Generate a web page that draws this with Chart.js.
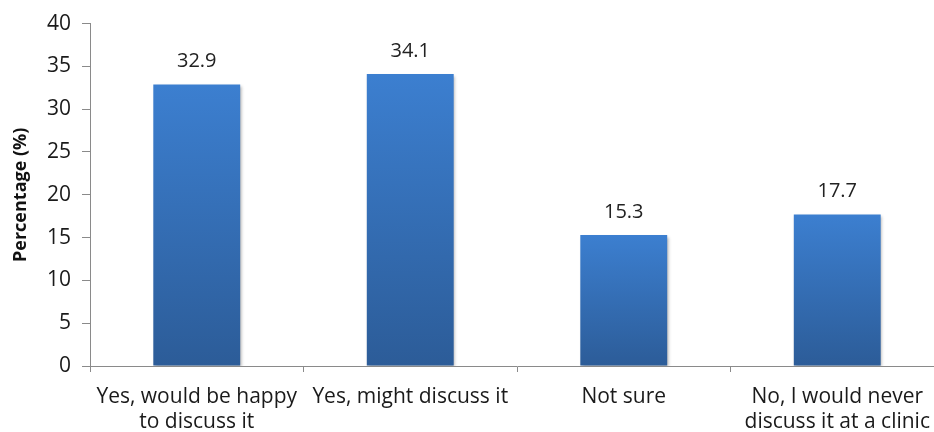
<!DOCTYPE html>
<html>
<head>
<meta charset="utf-8">
<script src="https://cdn.jsdelivr.net/npm/chart.js@4.4.1/dist/chart.umd.min.js"></script>
<style>
  html, body { margin: 0; padding: 0; background: #fff; overflow: hidden; }
  #wrap { width: 946px; height: 432px; position: relative; }
</style>
</head>
<body>
<div id="wrap"><canvas id="c" width="946" height="432"></canvas></div>
<script>
const categories = [
  ["Yes, would be happy", "to discuss it"],
  "Yes, might discuss it",
  "Not sure",
  ["No, I would never", "discuss it at a clinic"]
];
const percentages = [32.9, 34.1, 15.3, 17.7];
const yTicks = [0, 5, 10, 15, 20, 25, 30, 35, 40];
const yTitle = "Percentage (%)";

const FONT = "'Open Sans', sans-serif";

function barGradient(ctx) {
  const chart = ctx.chart;
  const ys = chart.scales && chart.scales.y;
  if (!chart.chartArea || !ys || ctx.raw === undefined) return '#3773c0';
  const top = ys.getPixelForValue(ctx.raw);
  const bottom = ys.getPixelForValue(0);
  const g = chart.ctx.createLinearGradient(0, top, 0, bottom);
  g.addColorStop(0, '#3c7fd0');
  g.addColorStop(1, '#2c5c98');
  return g;
}

const valueLabels = {
  id: 'valueLabels',
  afterDatasetsDraw(chart) {
    const ctx = chart.ctx;
    const meta = chart.getDatasetMeta(0);
    ctx.save();
    ctx.font = "20px " + FONT;
    ctx.fillStyle = '#222';
    ctx.textAlign = 'center';
    ctx.textBaseline = 'middle';
    meta.data.forEach((el, i) => {
      ctx.fillText(percentages[i].toFixed(1), el.x, el.y - 23);
    });
    ctx.restore();
  }
};

const barShadow = {
  id: 'barShadow',
  beforeDatasetDraw(chart) {
    const ctx = chart.ctx;
    ctx.save();
    ctx.shadowColor = 'rgba(0,0,0,0.3)';
    ctx.shadowBlur = 3;
    ctx.shadowOffsetX = 1.5;
    ctx.shadowOffsetY = 1.5;
  },
  afterDatasetDraw(chart) {
    chart.ctx.restore();
  }
};

new Chart(document.getElementById('c'), {
  type: 'bar',
  data: {
    labels: categories,
    datasets: [{
      data: percentages,
      backgroundColor: barGradient,
      borderWidth: 0,
      barPercentage: 0.407,
      categoryPercentage: 1.0
    }]
  },
  options: {
    responsive: false,
    animation: false,
    devicePixelRatio: 1,
    layout: { padding: { top: 22, right: 2, left: 0, bottom: 0 } },
    plugins: {
      legend: { display: false },
      tooltip: { enabled: false }
    },
    scales: {
      x: {
        offset: true,
        grid: {
          display: true,
          offset: true,
          drawOnChartArea: false,
          drawTicks: true,
          tickLength: 6,
          color: '#8a8a8a'
        },
        border: { display: true, color: '#8a8a8a', width: 1 },
        ticks: {
          color: '#1a1a1a',
          font: { family: FONT, size: 21, lineHeight: 1.2 },
          padding: 12,
          maxRotation: 0,
          autoSkip: false
        },
        afterFit(s) { s.height = 66; }
      },
      y: {
        min: 0,
        max: 40,
        afterBuildTicks(s) { s.ticks = yTicks.map(v => ({ value: v })); },
        grid: {
          display: true,
          drawOnChartArea: false,
          drawTicks: true,
          tickLength: 8,
          color: '#8a8a8a'
        },
        border: { display: true, color: '#8a8a8a', width: 1 },
        ticks: {
          color: '#1a1a1a',
          font: { family: FONT, size: 21 },
          padding: 11
        },
        title: {
          display: true,
          text: yTitle,
          color: '#111',
          font: { family: FONT, size: 18, weight: 'bold' },
          padding: { top: 10, bottom: 4 }
        },
        afterFit(s) { s.width = 90; }
      }
    }
  },
  plugins: [barShadow, valueLabels]
});
</script>
</body>
</html>
